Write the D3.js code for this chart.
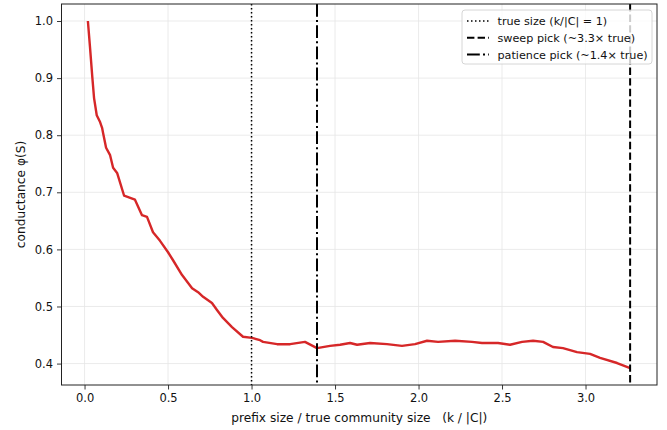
<!DOCTYPE html>
<html>
<head>
<meta charset="utf-8">
<script src="https://cdn.jsdelivr.net/npm/d3@7"></script>
<style>
  body { margin: 0; background: #fff; }
  text { font-family: "DejaVu Sans", sans-serif; fill: #111; }
</style>
</head>
<body>
<div id="chart"></div>
<script>
// sweep curve (k/|C|, conductance)
var ratio = [0.020, 0.033, 0.047, 0.057, 0.073, 0.093, 0.105, 0.111, 0.129, 0.153,
  0.171, 0.195, 0.237, 0.302, 0.344, 0.374, 0.410, 0.452, 0.500, 0.530,
  0.584, 0.644, 0.680, 0.710, 0.763, 0.793, 0.829, 0.883, 0.949, 1.003,
  1.051, 1.069, 1.153, 1.231, 1.320, 1.392, 1.470, 1.530, 1.590, 1.632,
  1.710, 1.811, 1.901, 1.979, 2.051, 2.117, 2.219, 2.320, 2.380, 2.476,
  2.548, 2.620, 2.686, 2.746, 2.805, 2.865, 2.949, 3.027, 3.087, 3.189, 3.267];
var conductance = [1.000, 0.953, 0.900, 0.865, 0.835, 0.823, 0.813, 0.804, 0.778, 0.765,
  0.743, 0.734, 0.694, 0.687, 0.660, 0.657, 0.630, 0.615, 0.595, 0.581,
  0.555, 0.532, 0.525, 0.517, 0.506, 0.494, 0.480, 0.464, 0.447, 0.445,
  0.441, 0.438, 0.434, 0.434, 0.438, 0.427, 0.431, 0.433, 0.436, 0.433,
  0.436, 0.434, 0.431, 0.434, 0.440, 0.438, 0.440, 0.438, 0.436, 0.436,
  0.433, 0.438, 0.440, 0.438, 0.429, 0.427, 0.420, 0.417, 0.410, 0.401, 0.392];

var markers = [
  {label: 'true size (k/|C| = 1)', at: 1.0, dash: '1.5,2.5', width: 1.5},
  {label: 'sweep pick (~3.3\u00d7 true)', at: 3.267, dash: '7.4,3.2', width: 2},
  {label: 'patience pick (~1.4\u00d7 true)', at: 1.392, dash: '12.8,3.2,2,3.2', width: 2}
];

var xTicks = [0, 0.5, 1, 1.5, 2, 2.5, 3];
var yTicks = [0.4, 0.5, 0.6, 0.7, 0.8, 0.9, 1.0];

var width = 667, height = 430;
var plot = {left: 61.5, right: 657, top: 4, bottom: 385};

var svg = d3.select('#chart').append('svg')
  .attr('width', width)
  .attr('height', height);

var x = d3.scaleLinear().domain([-0.138, 3.428]).range([plot.left, plot.right]);
var y = d3.scaleLinear().domain([0.3625, 1.0298]).range([plot.bottom, plot.top]);

// grid
svg.append('g').selectAll('line.gx')
  .data(xTicks).enter().append('line')
  .attr('x1', function(d) { return x(d); })
  .attr('x2', function(d) { return x(d); })
  .attr('y1', plot.top).attr('y2', plot.bottom)
  .style('stroke', '#e6e6e6').style('stroke-width', 0.8);
svg.append('g').selectAll('line.gy')
  .data(yTicks).enter().append('line')
  .attr('y1', function(d) { return y(d); })
  .attr('y2', function(d) { return y(d); })
  .attr('x1', plot.left).attr('x2', plot.right)
  .style('stroke', '#e6e6e6').style('stroke-width', 0.8);

// curve
var pts = ratio.map(function(r, i) { return [r, conductance[i]]; });
var line = d3.line()
  .x(function(d) { return x(d[0]); })
  .y(function(d) { return y(d[1]); });
svg.append('path')
  .datum(pts)
  .attr('d', line)
  .style('fill', 'none')
  .style('stroke', '#d62728')
  .style('stroke-width', 2.4)
  .style('stroke-linejoin', 'round');

// vertical markers
svg.append('g').selectAll('line')
  .data(markers).enter().append('line')
  .attr('x1', function(d) { return x(d.at); })
  .attr('x2', function(d) { return x(d.at); })
  .attr('y1', plot.top).attr('y2', plot.bottom)
  .style('stroke', '#000')
  .style('stroke-width', function(d) { return d.width; })
  .style('stroke-dasharray', function(d) { return d.dash; });

// axes
var xAxis = svg.append('g')
  .attr('transform', 'translate(0,' + plot.bottom + ')')
  .call(d3.axisBottom(x).tickValues(xTicks).tickFormat(d3.format('.1f')).tickSizeOuter(0).tickSize(4.5).tickPadding(4));
var yAxis = svg.append('g')
  .attr('transform', 'translate(' + plot.left + ',0)')
  .call(d3.axisLeft(y).tickValues(yTicks).tickFormat(d3.format('.1f')).tickSizeOuter(0).tickSize(4.5).tickPadding(4));
[xAxis, yAxis].forEach(function(a) {
  a.select('.domain').remove();
  a.selectAll('.tick line').style('stroke', '#222').style('stroke-width', 0.9);
  a.selectAll('.tick text').style('font-size', '11.5px').style('font-family', '"DejaVu Sans", sans-serif').style('fill', '#111');
});

// frame
svg.append('rect')
  .attr('x', plot.left).attr('y', plot.top)
  .attr('width', plot.right - plot.left)
  .attr('height', plot.bottom - plot.top)
  .style('fill', 'none')
  .style('stroke', '#222')
  .style('stroke-width', 1);

// axis labels
svg.append('text')
  .attr('x', (plot.left + plot.right) / 2)
  .attr('y', 422)
  .attr('text-anchor', 'middle')
  .style('font-size', '12.2px')
  .text('prefix size / true community size \u00a0 (k / |C|)');
svg.append('text')
  .attr('transform', 'translate(25,' + ((plot.top + plot.bottom) / 2) + ') rotate(-90)')
  .attr('text-anchor', 'middle')
  .style('font-size', '12.2px')
  .text('conductance \u03c6(S)');

// legend
var legend = svg.append('g').attr('transform', 'translate(462,10)');
legend.append('rect')
  .attr('width', 190).attr('height', 54)
  .attr('rx', 3)
  .style('fill', 'rgba(255,255,255,0.8)')
  .style('stroke', '#cccccc')
  .style('stroke-width', 0.8);
var item = legend.selectAll('.item')
  .data(markers).enter().append('g')
  .attr('class', 'item')
  .attr('transform', function(d, i) { return 'translate(0,' + (11 + i * 16.8) + ')'; });
item.append('line')
  .attr('x1', 5).attr('x2', 27)
  .style('stroke', '#000')
  .style('stroke-width', function(d) { return d.width; })
  .style('stroke-dasharray', function(d) { return d.dash; });
item.append('text')
  .attr('x', 35.5)
  .attr('dy', '.35em')
  .style('font-size', '11.2px')
  .text(function(d) { return d.label; });
</script>
</body>
</html>
